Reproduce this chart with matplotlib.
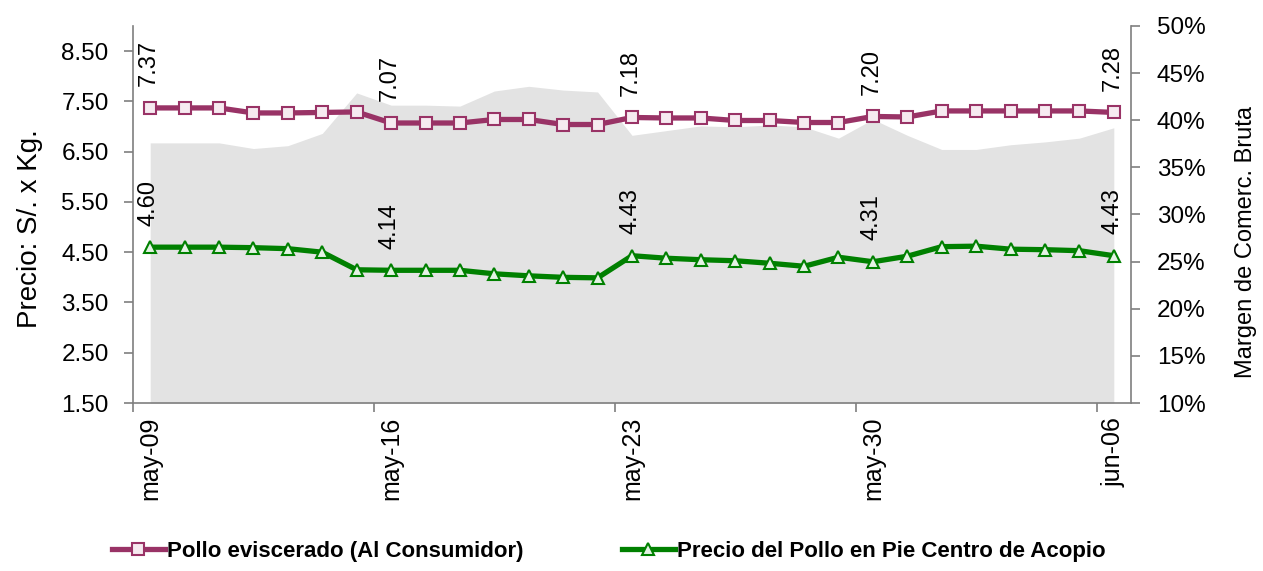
import matplotlib
matplotlib.use("Agg")
import matplotlib.pyplot as plt
from matplotlib.ticker import FixedLocator, PercentFormatter

fechas = ["may-09", "may-10", "may-11", "may-12", "may-13", "may-14", "may-15",
          "may-16", "may-17", "may-18", "may-19", "may-20", "may-21", "may-22",
          "may-23", "may-24", "may-25", "may-26", "may-27", "may-28", "may-29",
          "may-30", "may-31", "jun-01", "jun-02", "jun-03", "jun-04", "jun-05",
          "jun-06"]

# precio pollo eviscerado al consumidor (S/. x Kg.)
consumidor = [7.37, 7.37, 7.37, 7.27, 7.27, 7.28, 7.29, 7.07, 7.07, 7.07,
              7.14, 7.14, 7.04, 7.04, 7.18, 7.17, 7.17, 7.12, 7.12, 7.08,
              7.08, 7.20, 7.19, 7.31, 7.31, 7.31, 7.31, 7.31, 7.28]

# precio pollo en pie, centro de acopio (S/. x Kg.)
acopio = [4.60, 4.60, 4.60, 4.59, 4.57, 4.50, 4.15, 4.14, 4.14, 4.14,
          4.07, 4.03, 4.00, 3.99, 4.43, 4.38, 4.35, 4.33, 4.28, 4.22,
          4.40, 4.31, 4.42, 4.61, 4.62, 4.56, 4.55, 4.53, 4.43]

# margen de comercializacion bruta (%)
margen = [37.6, 37.6, 37.6, 37.0, 37.3, 38.6, 42.9, 41.6, 41.6, 41.5,
          43.1, 43.6, 43.2, 43.0, 38.4, 38.9, 39.4, 39.3, 39.5, 39.3,
          38.1, 40.1, 38.4, 36.9, 36.9, 37.4, 37.7, 38.1, 39.2]

etiquetas = [0, 7, 14, 21, 28]

plt.rcParams["font.family"] = ["Liberation Sans", "DejaVu Sans"]

x = list(range(len(fechas)))
morado = "#993366"
verde = "#008000"
eje = "#7f7f7f"

fig = plt.figure(figsize=(12.63, 5.71), dpi=100)
ax = fig.add_axes([0.1053, 0.2942, 0.7902, 0.6603])
ax2 = ax.twinx()

# area de margen en el eje derecho, detras de las lineas
ax2.fill_between(x, 10, margen, color="#e3e3e3", linewidth=0)
ax2.set_ylim(10, 50)
ax2.set_yticks(range(10, 51, 5))
ax2.yaxis.set_major_formatter(PercentFormatter(decimals=0))
ax2.set_ylabel("Margen de Comerc. Bruta", fontsize=17)
ax2.yaxis.set_label_coords(1.104, 0.427)
ax.set_zorder(ax2.get_zorder() + 1)
ax.patch.set_visible(False)

l1, = ax.plot(x, consumidor, color=morado, lw=3.8, marker="s", ms=8,
              mfc="#f6eaf0", mec=morado, mew=1.5,
              label="Pollo eviscerado (Al Consumidor)")
l2, = ax.plot(x, acopio, color=verde, lw=3.8, marker="^", ms=8,
              mfc="#e4f2e4", mec=verde, mew=1.5,
              label="Precio del Pollo en Pie Centro de Acopio")

for i in etiquetas:
    for serie in (consumidor, acopio):
        ax.annotate(f"{serie[i]:.2f}", (i, serie[i]), xytext=(-1, 15.5),
                    textcoords="offset points", rotation=90, ha="center",
                    va="bottom", fontsize=17)

ax.set_xlim(-0.5, len(fechas) - 0.5)
ax.set_ylim(1.5, 9.0)
ax.set_yticks([1.5, 2.5, 3.5, 4.5, 5.5, 6.5, 7.5, 8.5])
ax.set_yticklabels([f"{v:.2f}" for v in ax.get_yticks()], fontsize=17.5)
ax.set_ylabel("Precio: S/. x Kg.", fontsize=20)
ax.yaxis.set_label_coords(-0.0902, 0.4615)

# marcas en los limites de categoria, etiquetas en el centro
ax.xaxis.set_major_locator(FixedLocator([i - 0.5 for i in etiquetas]))
ax.set_xticklabels([])
ax.set_xticks(etiquetas, [fechas[i] for i in etiquetas], minor=True)
ax.tick_params(axis="x", which="minor", length=0, pad=10, labelsize=18,
               labelrotation=90)

for a in (ax, ax2):
    a.spines["top"].set_visible(False)
    for s in ("left", "right", "bottom"):
        a.spines[s].set_color(eje)
        a.spines[s].set_linewidth(1.2)
    a.tick_params(which="major", direction="out", length=6.5, width=1.2,
                  color=eje)
ax.tick_params(axis="y", pad=11)
ax2.tick_params(axis="y", pad=12, labelsize=17.5)
ax.spines["right"].set_visible(False)
ax2.spines["left"].set_visible(False)
ax2.spines["bottom"].set_visible(False)

fig.legend(handles=[l1, l2], loc="center", bbox_to_anchor=(0.482, 0.034),
           ncol=2, frameon=False, handlelength=2.4, handletextpad=0.1,
           columnspacing=4.4, prop={"weight": "bold", "size": 16})

fig.savefig("out.png", dpi=100)
